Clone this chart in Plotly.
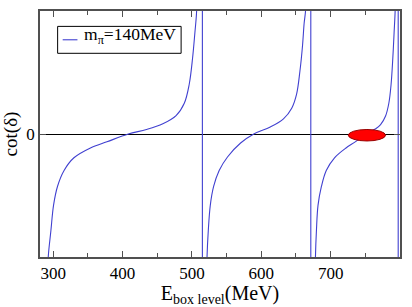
import plotly.graph_objects as go

# ---- data ----
b1_E = [292.0, 292.9, 296.7, 300.5, 306.2, 315.7, 329.9, 353.7, 377.5, 408.3, 434.5, 458.1,
        477.2, 489.0, 496.2, 500.9, 504.3, 506.6, 507.6]
b1_cot = [-3.6, -3.0, -2.36, -1.74, -1.28, -0.89, -0.58, -0.34, -0.19, 0.0, 0.11, 0.25,
          0.45, 0.75, 1.22, 1.84, 2.47, 2.94, 3.6]

b2_E = [521.3, 521.8, 523.6, 526.5, 531.3, 539.3, 551.3, 570.2, 589.2, 613.0, 632.0, 643.9,
        651.0, 655.7, 659.5, 661.8, 663.8, 664.8]
b2_cot = [-3.6, -3.0, -2.36, -1.74, -1.28, -0.89, -0.56, -0.22, 0.0, 0.17, 0.37, 0.63,
          0.98, 1.53, 2.16, 2.70, 3.0, 3.6]

b3_E = [677.7, 678.1, 679.5, 681.8, 686.7, 693.7, 705.6, 722.2, 736.5, 750.0, 765.0, 772.0,
        779.2, 783.9, 787.2, 789.6, 791.5, 793.0, 793.6]
b3_cot = [-3.6, -3.0, -2.36, -1.74, -1.28, -0.89, -0.58, -0.34, -0.18, 0.0, 0.13, 0.23,
          0.44, 0.75, 1.22, 1.84, 2.47, 3.0, 3.6]

jump_E = [515.1, 671.4, 797.4]       # vertical jumps between branches
level_E = [752.3]                     # red marked level
level_cot = [-0.03]
level_dE = [53.7]                     # ellipse full width (MeV)
level_dcot = [0.28]                   # ellipse full height

x_ticks = [300, 400, 500, 600, 700, 800]
y_ticks = [0]
legend_label = "m<sub>π</sub>=140MeV"

BLUE = "#4040d0"
FRAME = "#505050"
FONT = "Liberation Serif"

fig = go.Figure()
branches = [(b1_E, b1_cot), (b2_E, b2_cot), (b3_E, b3_cot)]
for ex, cy in branches:
    fig.add_trace(go.Scatter(
        x=ex, y=cy, mode="lines",
        line=dict(color=BLUE, width=1.1, shape="spline", smoothing=1.0),
        showlegend=False, hoverinfo="skip"))

jx, jy = [], []
for e in jump_E:
    jx += [e, e, None]
    jy += [-4, 4, None]
fig.add_trace(go.Scatter(x=jx, y=jy, mode="lines", line=dict(color=BLUE, width=1.1),
                         showlegend=False, hoverinfo="skip"))

for e, c, de, dc in zip(level_E, level_cot, level_dE, level_dcot):
    fig.add_shape(type="circle", xref="x", yref="y",
                  x0=e - de / 2, x1=e + de / 2, y0=c - dc / 2, y1=c + dc / 2,
                  fillcolor="#ff0000", line=dict(color="#990000", width=1))

# manual legend (short sample line like the reference)
fig.add_shape(type="rect", xref="paper", yref="paper", x0=0.049, x1=0.392, y0=0.828, y1=0.9375,
              line=dict(color="black", width=1), fillcolor="white", layer="above")
fig.add_shape(type="line", xref="paper", yref="paper", x0=0.063, x1=0.104, y0=0.883, y1=0.883,
              line=dict(color=BLUE, width=1.1), layer="above")
fig.add_annotation(xref="paper", yref="paper", x=0.117, y=0.900, xanchor="left", yanchor="middle",
                   text=legend_label, showarrow=False, font=dict(family=FONT, size=17.5, color="black"))

fig.update_layout(
    width=412, height=307,
    margin=dict(l=35, r=12, t=9, b=42),
    paper_bgcolor="white", plot_bgcolor="white",
    font=dict(family=FONT, size=17, color="black"),
    showlegend=False,
)
fig.update_xaxes(range=[281, 800], tickvals=x_ticks, ticks="inside", ticklen=6,
                 tickcolor=FRAME, showline=True, linecolor=FRAME, linewidth=1.5,
                 mirror="ticks", showgrid=False, zeroline=False,
                 minor=dict(dtick=50, tick0=250, ticks="inside", ticklen=4, tickcolor=FRAME),
                 tickfont=dict(family=FONT, size=17),
                 title=dict(text="E<sub>box level</sub>(MeV)", font=dict(family=FONT, size=20), standoff=1))
fig.update_yaxes(range=[-3, 3], tickvals=y_ticks, ticktext=["0"], ticks="inside", ticklen=6,
                 tickcolor=FRAME, showline=True, linecolor=FRAME, linewidth=1.5,
                 mirror="ticks", showgrid=False, zeroline=True, zerolinecolor="black",
                 zerolinewidth=1, tickfont=dict(family=FONT, size=17),
                 title=dict(text="cot(δ)", font=dict(family=FONT, size=19), standoff=4))

fig.write_html("out.html")
